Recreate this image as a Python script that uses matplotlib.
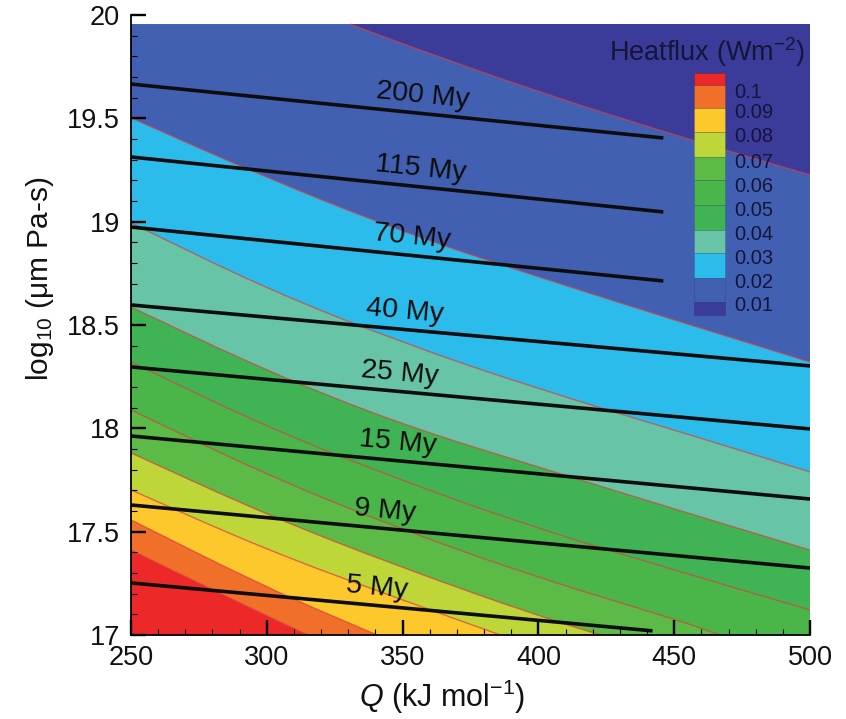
import matplotlib
matplotlib.use('Agg')
import matplotlib.pyplot as plt
from matplotlib.patches import Rectangle, PathPatch
from matplotlib.path import Path
from matplotlib.ticker import MultipleLocator, FixedLocator, FixedFormatter
import numpy as np

plt.rcParams['font.family'] = ['Liberation Sans', 'DejaVu Sans']
plt.rcParams['mathtext.fontset'] = 'custom'
plt.rcParams['mathtext.rm'] = 'Liberation Sans'
plt.rcParams['mathtext.it'] = 'Liberation Sans:italic'
plt.rcParams['mathtext.default'] = 'regular'

# ---------------- data ----------------
# heat-flux contour levels (W m^-2)
levels = [0.01, 0.02, 0.03, 0.04, 0.05, 0.06, 0.07, 0.08, 0.09, 0.1]
# boundary curves: Q (kJ/mol) and log10 viscosity
bq_001 = [330.6, 350, 400, 450, 500]
bv_001 = [19.956, 19.860, 19.627, 19.419, 19.226]
bq_002 = [250, 300, 350, 400, 450, 500]
bv_002 = [19.502, 19.211, 18.950, 18.732, 18.524, 18.321]
bq_003 = [250, 300, 350, 400, 450, 500]
bv_003 = [18.994, 18.674, 18.413, 18.190, 17.992, 17.789]
bq_004 = [250, 300, 350, 400, 450, 500]
bv_004 = [18.587, 18.277, 18.016, 17.813, 17.610, 17.411]
bq_005 = [250, 300, 350, 400, 450, 500]
bv_005 = [18.321, 18.006, 17.745, 17.513, 17.315, 17.121]
bq_006 = [250, 300, 350, 400, 450, 467]
bv_006 = [18.089, 17.774, 17.508, 17.276, 17.078, 17.0]
bq_007 = [250, 300, 350, 400, 423]
bv_007 = [17.881, 17.581, 17.324, 17.092, 17.0]
bq_008 = [250, 300, 350, 386]
bv_008 = [17.702, 17.411, 17.169, 17.0]
bq_009 = [250, 300, 340.6]
bv_009 = [17.557, 17.228, 17.0]
bq_010 = [250, 282.4, 315]
bv_010 = [17.411, 17.203, 17.0]
boundary_q = [bq_001, bq_002, bq_003, bq_004, bq_005, bq_006, bq_007, bq_008, bq_009, bq_010]
boundary_v = [bv_001, bv_002, bv_003, bv_004, bv_005, bv_006, bv_007, bv_008, bv_009, bv_010]

# band colours: <0.01, 0.01-0.02, ..., 0.09-0.1, >0.1
band_colors = ['#3b3b9a', '#4260b2', '#2bbcec', '#68c4a6', '#40b454', '#4ab64a',
               '#5cba46', '#bed638', '#fcc82c', '#f0702a', '#ec2828']
legend_labels = ['0.1', '0.09', '0.08', '0.07', '0.06', '0.05', '0.04', '0.03', '0.02', '0.01']

# isochrons (age lines)
iso_labels = ['200 My', '115 My', '70 My', '40 My', '25 My', '15 My', '9 My', '5 My']
iso_q0 = [250, 250, 250, 250, 250, 250, 250, 250]
iso_v0 = [19.666, 19.313, 18.974, 18.597, 18.297, 17.963, 17.629, 17.252]
iso_q1 = [446, 446, 446, 500, 500, 500, 500, 442]
iso_v1 = [19.405, 19.047, 18.713, 18.302, 17.997, 17.658, 17.324, 17.02]
iso_label_q = [357.5, 356.8, 353.5, 350.9, 349.0, 348.3, 343.5, 340.6]

x_ticks = [250, 300, 350, 400, 450, 500]
y_ticks = [17, 17.5, 18, 18.5, 19, 19.5, 20]
y_tick_labels = ['17', '17.5', '18', '18.5', '19', '19.5', '20']

Q_MIN, Q_MAX = 250, 500
V_MIN, V_TOP = 17.0, 19.956


def smooth_path_parts(qs, vs):
    """Vertices/codes of a smooth curve through the read points (quadratic joins)."""
    p = list(zip(qs, vs))
    verts = [p[0]]
    codes = [Path.MOVETO]
    if len(p) == 2:
        verts.append(p[1]); codes.append(Path.LINETO)
        return verts, codes
    m = ((p[0][0] + p[1][0]) / 2, (p[0][1] + p[1][1]) / 2)
    verts.append(m); codes.append(Path.LINETO)
    for i in range(1, len(p) - 1):
        m = ((p[i][0] + p[i + 1][0]) / 2, (p[i][1] + p[i + 1][1]) / 2)
        verts += [p[i], m]
        codes += [Path.CURVE3, Path.CURVE3]
    verts.append(p[-1]); codes.append(Path.LINETO)
    return verts, codes


# ---------------- figure ----------------
W, H = 846, 719
fig = plt.figure(figsize=(W / 100, H / 100), dpi=100)
ax = fig.add_axes([131 / W, 1 - 635 / H, 679 / W, 620 / H])
ax.set_xlim(Q_MIN, Q_MAX)
ax.set_ylim(17, 20)

# base band (highest flux)
ax.add_patch(Rectangle((Q_MIN, V_MIN), Q_MAX - Q_MIN, V_TOP - V_MIN,
                       facecolor=band_colors[-1], edgecolor='none', zorder=1))
# paint region above each boundary, from the highest level downwards
for k in range(len(levels) - 1, -1, -1):
    qs, vs = boundary_q[k], boundary_v[k]
    verts, codes = smooth_path_parts(qs, vs)
    extra = []
    if vs[-1] <= V_MIN + 1e-9:
        extra.append((Q_MAX, V_MIN))
    extra.append((Q_MAX, V_TOP))
    if qs[0] <= Q_MIN + 1e-9:
        extra.append((Q_MIN, V_TOP))
    verts = verts + extra + [verts[0]]
    codes = codes + [Path.LINETO] * len(extra) + [Path.CLOSEPOLY]
    ax.add_patch(PathPatch(Path(verts, codes), facecolor=band_colors[k], edgecolor='none',
                           zorder=1 + (10 - k) * 0.01))
for k in range(len(levels)):
    verts, codes = smooth_path_parts(boundary_q[k], boundary_v[k])
    ax.add_patch(PathPatch(Path(verts, codes), facecolor='none', edgecolor='#d84040',
                           alpha=0.7, lw=1.0, zorder=2))

# isochrons
for i in range(len(iso_labels)):
    ax.plot([iso_q0[i], iso_q1[i]], [iso_v0[i], iso_v1[i]], color='#0d0d0d', lw=2.6,
            solid_capstyle='butt', zorder=4)

for i in range(len(iso_labels)):
    p0 = ax.transData.transform((iso_q0[i], iso_v0[i]))
    p1 = ax.transData.transform((iso_q1[i], iso_v1[i]))
    ang = np.degrees(np.arctan2(p1[1] - p0[1], p1[0] - p0[0]))
    lq = iso_label_q[i]
    lv = iso_v0[i] + (iso_v1[i] - iso_v0[i]) * (lq - iso_q0[i]) / (iso_q1[i] - iso_q0[i])
    ax.annotate(iso_labels[i], (lq, lv), xytext=(0, 13), textcoords='offset points',
                ha='center', va='center', rotation=ang, rotation_mode='anchor',
                fontsize=20.5, color='#0d0d0d', zorder=5)

# axes styling
for s in ['top', 'right']:
    ax.spines[s].set_visible(False)
for s in ['left', 'bottom']:
    ax.spines[s].set_linewidth(1.3)
    ax.spines[s].set_zorder(6)
ax.xaxis.set_major_locator(FixedLocator(x_ticks))
ax.xaxis.set_minor_locator(MultipleLocator(10))
ax.yaxis.set_major_locator(FixedLocator(y_ticks))
ax.yaxis.set_major_formatter(FixedFormatter(y_tick_labels))
ax.yaxis.set_minor_locator(MultipleLocator(0.1))
ax.tick_params(which='major', direction='in', length=11, width=1.7, labelsize=19.5,
               labelcolor='#111111')
ax.tick_params(which='minor', direction='in', length=4.5, width=0.8)
ax.tick_params(axis='x', which='major', pad=7.5)
ax.tick_params(axis='y', which='major', pad=8)
ax.set_axisbelow(False)

fig.text(40 / W, 1 - 279 / H, r'log$_{10}$ (μm Pa-s)', rotation=90, ha='center', va='center',
         fontsize=21.5, color='#111111')
fig.text(442 / W, 1 - 697 / H, r'$\mathit{Q}$ (kJ mol$^{-1}$)', ha='center', va='center',
         fontsize=22, color='#111111')

# legend (colour key)
fig.text(707 / W, 1 - 52 / H, r'Heatflux (Wm$^{-2}$)', ha='center', va='center', fontsize=19.5,
         color='#15153a')
edges = [73, 85, 108, 132, 157, 180, 205, 230, 253, 278, 302, 315]
key_colors = band_colors[::-1]
for j in range(len(key_colors)):
    y0, y1 = edges[j], edges[j + 1]
    fig.add_artist(Rectangle((694 / W, 1 - y1 / H), 31 / W, (y1 - y0) / H,
                             transform=fig.transFigure, facecolor=key_colors[j],
                             edgecolor=(0, 0, 0, 0.15), lw=0.5))
label_y = [92, 113, 137, 162, 186, 210, 234, 258, 283, 306]
for lab, yy in zip(legend_labels, label_y):
    fig.text(734 / W, 1 - yy / H, lab, ha='left', va='center', fontsize=14.5, color='#15153a')

fig.savefig('out.png', dpi=100)
